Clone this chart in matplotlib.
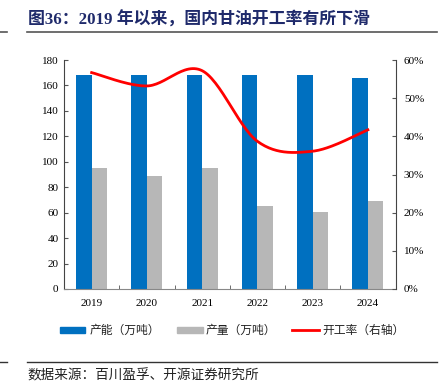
import numpy as np
import matplotlib
matplotlib.use("Agg")
import matplotlib.pyplot as plt
from matplotlib.lines import Line2D
from matplotlib.patches import Rectangle

plt.rcParams['font.family'] = ['Liberation Serif', 'Noto Sans CJK SC', 'DejaVu Sans']

years = ['2019', '2020', '2021', '2022', '2023', '2024']
capacity = [168, 168, 168, 168, 168, 166]
output = [95, 89, 95.5, 65, 60.5, 69]
rate = [56.7, 53.2, 57.2, 38.7, 36.1, 41.7]
labels = ['产能（万吨）', '产量（万吨）', '开工率（右轴）']

blue = '#0070C0'
gray = '#B7B7B7'
red = '#FF0000'
navy = '#1F2A6B'
cjk = ['Noto Sans CJK SC', 'DejaVu Sans']
W, H = 440, 385

fig = plt.figure(figsize=(4.4, 3.85), dpi=100)
ax = fig.add_axes([64/W, 1-289/H, (395.5-64)/W, (289-60)/H])
x = np.arange(len(years))
w = 0.28
ax.bar(x - w/2, capacity, width=w, color=blue, zorder=2)
ax.bar(x + w/2, output, width=w, color=gray, zorder=2)
ax.set_xlim(-0.5, len(years) - 0.5)
ax.set_ylim(0, 180)
ax.set_yticks(np.arange(0, 181, 20))
ax.set_xticks(x)
ax.set_xticklabels(years)
ax.set_xticks(np.arange(0.5, len(years) - 0.5, 1), minor=True)
ax.tick_params(axis='x', which='major', length=0, labelsize=8, pad=7)
ax.tick_params(axis='x', which='minor', length=3, direction='in', color='#555555')
ax.tick_params(axis='y', length=3, direction='in', labelsize=8, color='#555555', pad=4)
ax.spines['top'].set_visible(False)
ax.spines['left'].set_color('#444444')
ax.spines['bottom'].set_color('#888888')
ax.spines['right'].set_visible(False)

ax2 = ax.twinx()
ax2.set_ylim(0, 60)
ax2.set_yticks(np.arange(0, 61, 10))
ax2.set_yticklabels([f'{v}%' for v in range(0, 61, 10)])
ax2.tick_params(axis='y', length=3, direction='in', labelsize=8, color='#555555', pad=6)
for s in ['top', 'left', 'bottom']:
    ax2.spines[s].set_visible(False)
ax2.spines['right'].set_color('#444444')

# smooth curve (Catmull-Rom) through the data points
px = x.astype(float)
py = np.array(rate, dtype=float)
P = np.column_stack([px, py])
P = np.vstack([P[0], P, P[-1]])
cx, cy = [], []
for i in range(1, len(P) - 2):
    p0, p1, p2, p3 = P[i-1], P[i], P[i+1], P[i+2]
    t = np.linspace(0, 1, 30)[:, None]
    seg = 0.5 * ((2*p1) + (-p0 + p2)*t + (2*p0 - 5*p1 + 4*p2 - p3)*t**2 + (-p0 + 3*p1 - 3*p2 + p3)*t**3)
    cx.extend(seg[:, 0]); cy.extend(seg[:, 1])
ax2.plot(cx, cy, color=red, lw=2, zorder=3)

# title and rules
fig.text(28/W, 1-19.5/H, '图36：2019 年以来，国内甘油开工率有所下滑', family=['Liberation Serif', 'Noto Sans CJK SC'],
         fontsize=12.2, fontweight='bold', color=navy, va='center', ha='left')
fig.add_artist(Line2D([27/W, 437/W], [1-32/H, 1-32/H], color='#555555', lw=1.2))
fig.add_artist(Line2D([0, 7/W], [1-32/H, 1-32/H], color='#555555', lw=1.2))
fig.add_artist(Line2D([27/W, 437/W], [1-362/H, 1-362/H], color='#333333', lw=1.0))
fig.add_artist(Line2D([0, 7/W], [1-362/H, 1-362/H], color='#333333', lw=1.0))
fig.text(27/W, 1-375/H, '数据来源：百川盈孚、开源证券研究所', family=cjk, fontsize=9.8,
         color='#222222', va='center', ha='left')

# legend (manual)
ly = 330
fig.add_artist(Rectangle((60/W, 1-(ly+3)/H), 25/W, 6/H, color=blue, transform=fig.transFigure))
fig.add_artist(Rectangle((177/W, 1-(ly+3)/H), 26/W, 6/H, color=gray, transform=fig.transFigure))
fig.add_artist(Line2D([292/W, 319/W], [1-ly/H, 1-ly/H], color=red, lw=2))
for tx, lab in zip([90, 206, 322], labels):
    fig.text(tx/W, 1-ly/H, lab, family=cjk, fontsize=8.5, color='#222222', va='center', ha='left')

fig.savefig('out.png', dpi=100)
